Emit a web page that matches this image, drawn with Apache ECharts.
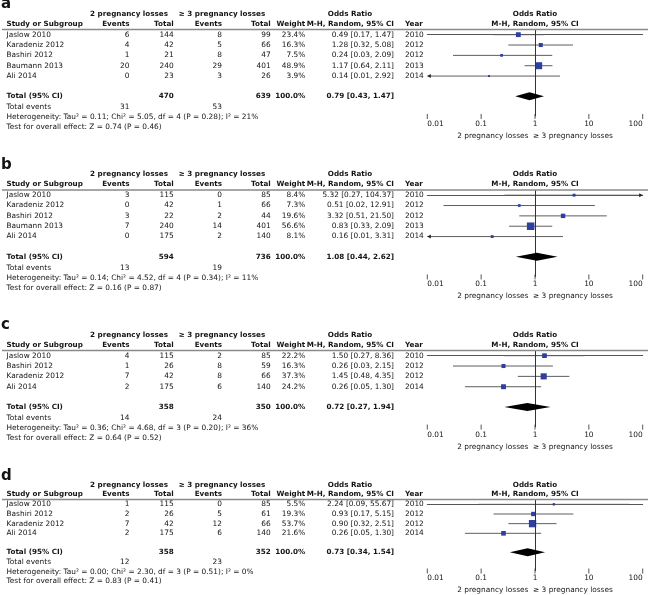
<!DOCTYPE html>
<html><head><meta charset="utf-8">
<script src="https://cdn.jsdelivr.net/npm/echarts/dist/echarts.min.js"></script>
<style>html,body{margin:0;padding:0;background:#fff}#c{width:650px;height:595px}</style>
</head><body><div id="c"></div>
<script>
// ---------------- DATA ----------------
const tickLabels = ['0.01', '0.1', '1', '10', '100'];
const groupHeader = ['2 pregnancy losses', '\u2265 3 pregnancy losses'];
const axisName = '2 pregnancy losses  \u2265 3 pregnancy losses';

// Panel a
const aStudies = ['Jaslow 2010', 'Karadeniz 2012', 'Bashiri 2012', 'Baumann 2013', 'Ali 2014'];
const aEvents2 = [6, 4, 1, 20, 0];
const aTotal2 = [144, 42, 21, 240, 23];
const aEvents3 = [8, 5, 8, 29, 3];
const aTotal3 = [99, 66, 47, 401, 26];
const aWeight = [23.4, 16.3, 7.5, 48.9, 3.9];
const aOR = [0.49, 1.28, 0.24, 1.17, 0.14];
const aLow = [0.17, 0.32, 0.03, 0.64, 0.01];
const aHigh = [1.47, 5.08, 2.09, 2.11, 2.92];
const aYear = [2010, 2012, 2012, 2013, 2014];
const aPooled = [0.79, 0.43, 1.47];
const aTotals = [470, 639];
const aTotalEvents = [31, 53];
const aHet = 'Heterogeneity: Tau\u00b2 = 0.11; Chi\u00b2 = 5.05, df = 4 (P = 0.28); I\u00b2 = 21%';
const aTest = 'Test for overall effect: Z = 0.74 (P = 0.46)';

// Panel b
const bStudies = ['Jaslow 2010', 'Karadeniz 2012', 'Bashiri 2012', 'Baumann 2013', 'Ali 2014'];
const bEvents2 = [3, 0, 3, 7, 0];
const bTotal2 = [115, 42, 22, 240, 175];
const bEvents3 = [0, 1, 2, 14, 2];
const bTotal3 = [85, 66, 44, 401, 140];
const bWeight = [8.4, 7.3, 19.6, 56.6, 8.1];
const bOR = [5.32, 0.51, 3.32, 0.83, 0.16];
const bLow = [0.27, 0.02, 0.51, 0.33, 0.01];
const bHigh = [104.37, 12.91, 21.50, 2.09, 3.31];
const bYear = [2010, 2012, 2012, 2013, 2014];
const bPooled = [1.08, 0.44, 2.62];
const bTotals = [594, 736];
const bTotalEvents = [13, 19];
const bHet = 'Heterogeneity: Tau\u00b2 = 0.14; Chi\u00b2 = 4.52, df = 4 (P = 0.34); I\u00b2 = 11%';
const bTest = 'Test for overall effect: Z = 0.16 (P = 0.87)';

// Panel c
const cStudies = ['Jaslow 2010', 'Bashiri 2012', 'Karadeniz 2012', 'Ali 2014'];
const cEvents2 = [4, 1, 7, 2];
const cTotal2 = [115, 26, 42, 175];
const cEvents3 = [2, 8, 8, 6];
const cTotal3 = [85, 59, 66, 140];
const cWeight = [22.2, 16.3, 37.3, 24.2];
const cOR = [1.50, 0.26, 1.45, 0.26];
const cLow = [0.27, 0.03, 0.48, 0.05];
const cHigh = [8.36, 2.15, 4.35, 1.30];
const cYear = [2010, 2012, 2012, 2014];
const cPooled = [0.72, 0.27, 1.94];
const cTotals = [358, 350];
const cTotalEvents = [14, 24];
const cHet = 'Heterogeneity: Tau\u00b2 = 0.36; Chi\u00b2 = 4.68, df = 3 (P = 0.20); I\u00b2 = 36%';
const cTest = 'Test for overall effect: Z = 0.64 (P = 0.52)';

// Panel d
const dStudies = ['Jaslow 2010', 'Bashiri 2012', 'Karadeniz 2012', 'Ali 2014'];
const dEvents2 = [1, 2, 7, 2];
const dTotal2 = [115, 26, 42, 175];
const dEvents3 = [0, 5, 12, 6];
const dTotal3 = [85, 61, 66, 140];
const dWeight = [5.5, 19.3, 53.7, 21.6];
const dOR = [2.24, 0.93, 0.90, 0.26];
const dLow = [0.09, 0.17, 0.32, 0.05];
const dHigh = [55.67, 5.15, 2.51, 1.30];
const dYear = [2010, 2012, 2012, 2014];
const dPooled = [0.73, 0.34, 1.54];
const dTotals = [358, 352];
const dTotalEvents = [12, 23];
const dHet = 'Heterogeneity: Tau\u00b2 = 0.00; Chi\u00b2 = 2.30, df = 3 (P = 0.51); I\u00b2 = 0%';
const dTest = 'Test for overall effect: Z = 0.83 (P = 0.41)';

// ---------------- LAYOUT / STYLE ----------------
const ROWH = 10.35;
const PANEL_TOPS = [29.5, 190, 350.5, 499.5];
const PLOT_LEFT = 427.3, PLOT_RIGHT = 7.3;
const X_MIN = 0.01, X_MAX = 100;
const FONT = 'DejaVu Sans';
const FS = 7.4, FSB = 7.2;
const COL = {name: 6.5, ev2: 129.5, tot2: 173.7, ev3: 222, tot3: 270.7, w: 305.3, ci: 394, year: 405, g1: 129, g2: 222, orMid: 350};
const TEXT_COLOR = '#141414';

function mk(letter, studies, ev2, tot2, ev3, tot3, weight, or, lo, hi, year, pooled, totals, totalEvents, het, test) {
  return {letter, studies, ev2, tot2, ev3, tot3, weight, or, lo, hi, year, pooled, totals, totalEvents, het, test};
}
const panels = [
  mk('a', aStudies, aEvents2, aTotal2, aEvents3, aTotal3, aWeight, aOR, aLow, aHigh, aYear, aPooled, aTotals, aTotalEvents, aHet, aTest),
  mk('b', bStudies, bEvents2, bTotal2, bEvents3, bTotal3, bWeight, bOR, bLow, bHigh, bYear, bPooled, bTotals, bTotalEvents, bHet, bTest),
  mk('c', cStudies, cEvents2, cTotal2, cEvents3, cTotal3, cWeight, cOR, cLow, cHigh, cYear, cPooled, cTotals, cTotalEvents, cHet, cTest),
  mk('d', dStudies, dEvents2, dTotal2, dEvents3, dTotal3, dWeight, dOR, dLow, dHigh, dYear, dPooled, dTotals, dTotalEvents, dHet, dTest)
];

const f2 = v => v.toFixed(2);
const ciText = (e, l, h) => `${f2(e)} [${f2(l)}, ${f2(h)}]`;

function tableRows(p) {
  const n = p.studies.length;
  const T = (t, x, align, bold, size) => ({t: String(t), x, align, bold: !!bold, size});
  const rows = [];
  rows.push({y: -2.95, cells: [T(p.letter, 1, 'left', true, 15)]});
  rows.push({y: -2.0, cells: [
    T(groupHeader[0], COL.g1, 'center', true), T(groupHeader[1], COL.g2, 'center', true),
    T('Odds Ratio', COL.orMid, 'center', true), T('Odds Ratio', 'plot', 'center', true)]});
  rows.push({y: -1.03, cells: [
    T('Study or Subgroup', COL.name, 'left', true), T('Events', COL.ev2, 'right', true),
    T('Total', COL.tot2, 'right', true), T('Events', COL.ev3, 'right', true),
    T('Total', COL.tot3, 'right', true), T('Weight', COL.w, 'right', true),
    T('M-H, Random, 95% CI', COL.ci, 'right', true), T('Year', COL.year, 'left', true),
    T('M-H, Random, 95% CI', 'plot', 'center', true)]});
  rows.push({y: -0.5, rule: true, cells: []});
  for (let i = 0; i < n; i++) {
    rows.push({y: i, cells: [
      T(p.studies[i], COL.name, 'left'), T(p.ev2[i], COL.ev2, 'right'), T(p.tot2[i], COL.tot2, 'right'),
      T(p.ev3[i], COL.ev3, 'right'), T(p.tot3[i], COL.tot3, 'right'),
      T(p.weight[i].toFixed(1) + '%', COL.w, 'right'),
      T(ciText(p.or[i], p.lo[i], p.hi[i]), COL.ci, 'right'), T(p.year[i], COL.year, 'left')]});
  }
  rows.push({y: n + 0.95, cells: [
    T('Total (95% CI)', COL.name, 'left', true), T(p.totals[0], COL.tot2, 'right', true),
    T(p.totals[1], COL.tot3, 'right', true), T('100.0%', COL.w, 'right', true),
    T(ciText(p.pooled[0], p.pooled[1], p.pooled[2]), COL.ci, 'right', true)]});
  rows.push({y: n + 2.0, cells: [
    T('Total events', COL.name, 'left'), T(p.totalEvents[0], COL.ev2, 'right'), T(p.totalEvents[1], COL.ev3, 'right')]});
  rows.push({y: n + 3.0, cells: [T(p.het, COL.name, 'left')]});
  rows.push({y: n + 3.95, cells: [T(p.test, COL.name, 'left')]});
  return rows;
}

const option = {animation: false, grid: [], xAxis: [], yAxis: [], series: []};

panels.forEach((p, k) => {
  const n = p.studies.length;
  const yMax = n + 2.9;
  option.grid.push({left: PLOT_LEFT, right: PLOT_RIGHT, top: PANEL_TOPS[k], height: ROWH * (n + 3.4), containLabel: false});
  option.xAxis.push({
    gridIndex: k, type: 'log', logBase: 10, min: X_MIN, max: X_MAX,
    axisLine: {show: true, lineStyle: {color: '#555', width: 1}},
    axisTick: {show: false}, minorTick: {show: false}, splitLine: {show: false},
    axisLabel: {fontFamily: FONT, fontSize: FS, color: TEXT_COLOR, margin: 4,
      alignMinLabel: 'left', alignMaxLabel: 'right',
      formatter: v => tickLabels[Math.round(Math.log10(v)) + 2]},
    name: axisName, nameLocation: 'middle', nameGap: 16,
    nameTextStyle: {fontFamily: FONT, fontSize: FS, color: TEXT_COLOR}
  });
  option.yAxis.push({gridIndex: k, type: 'value', inverse: true, min: -0.5, max: yMax, show: false});

  const rows = tableRows(p);
  // table text
  option.series.push({
    type: 'custom', xAxisIndex: k, yAxisIndex: k, clip: false, silent: true, z: 5,
    data: rows.map((r, i) => [1, r.y, i]), encode: {x: 0, y: 1},
    renderItem: (params, api) => {
      const r = rows[api.value(2)];
      const y = api.coord([1, api.value(1)])[1];
      const plotX = api.coord([1, 0])[0];
      if (r.rule) return {type: 'line', shape: {x1: 2, y1: y, x2: 648, y2: y}, style: {stroke: '#8a8a8a', lineWidth: 1.5}};
      return {type: 'group', children: r.cells.map(c => ({
        type: 'text', x: c.x === 'plot' ? plotX : c.x, y,
        style: {text: c.t, fontFamily: FONT, fontSize: c.size || (c.bold ? FSB : FS),
          fontWeight: c.bold ? 'bold' : 'normal', fill: TEXT_COLOR, align: c.align, verticalAlign: 'middle'}
      }))};
    }
  });
  // axis ticks (crossing the axis line)
  option.series.push({
    type: 'custom', xAxisIndex: k, yAxisIndex: k, clip: false, silent: true,
    data: tickLabels.map(t => [Number(t), yMax]), encode: {x: 0, y: 1},
    renderItem: (params, api) => {
      const pt = api.coord([api.value(0), api.value(1)]);
      return {type: 'line', shape: {x1: pt[0], y1: pt[1] - 2.5, x2: pt[0], y2: pt[1] + 2.5}, style: {stroke: '#555', lineWidth: 1}};
    }
  });
  // confidence intervals
  option.series.push({
    type: 'custom', xAxisIndex: k, yAxisIndex: k, clip: false, silent: true,
    data: p.studies.map((s, i) => [i, p.lo[i], p.hi[i]]), encode: {x: [1, 2], y: 0},
    renderItem: (params, api) => {
      const row = api.value(0), lo = api.value(1), hi = api.value(2);
      const y = api.coord([1, row])[1];
      const xl = api.coord([Math.max(lo, X_MIN), row])[0];
      const xr = api.coord([Math.min(hi, X_MAX), row])[0];
      const ch = [{type: 'line', shape: {x1: xl, y1: y, x2: xr, y2: y}, style: {stroke: '#5e5e5e', lineWidth: 1}}];
      if (lo <= X_MIN) ch.push({type: 'polygon', shape: {points: [[xl, y], [xl + 3.5, y - 2], [xl + 3.5, y + 2]]}, style: {fill: '#222'}});
      if (hi >= X_MAX) ch.push({type: 'polygon', shape: {points: [[xr, y], [xr - 3.5, y - 2], [xr - 3.5, y + 2]]}, style: {fill: '#222'}});
      return {type: 'group', children: ch};
    }
  });
  // study squares + line of no effect
  option.series.push({
    type: 'scatter', xAxisIndex: k, yAxisIndex: k, silent: true, z: 4,
    symbol: 'rect', symbolSize: v => Math.sqrt(v[2]) * 1.0,
    itemStyle: {color: '#2f3f9f', opacity: 1},
    data: p.studies.map((s, i) => [p.or[i], i, p.weight[i]]),
    markLine: {silent: true, symbol: ['none', 'none'], label: {show: false},
      lineStyle: {color: '#333', width: 1, type: 'solid'}, data: [{xAxis: 1}]}
  });
  // pooled diamond
  option.series.push({
    type: 'custom', xAxisIndex: k, yAxisIndex: k, clip: false, silent: true, z: 6,
    data: [[n + 0.95, p.pooled[0], p.pooled[1], p.pooled[2]]], encode: {x: [1, 2, 3], y: 0},
    renderItem: (params, api) => {
      const row = api.value(0);
      const c = api.coord([api.value(1), row]);
      const l = api.coord([api.value(2), row]);
      const r = api.coord([api.value(3), row]);
      return {type: 'polygon', shape: {points: [[l[0], c[1]], [c[0], c[1] - 4], [r[0], c[1]], [c[0], c[1] + 4]]}, style: {fill: '#000'}};
    }
  });
});

const chart = echarts.init(document.getElementById('c'), null, {renderer: 'canvas'});
chart.setOption(option);
</script>
</body></html>
